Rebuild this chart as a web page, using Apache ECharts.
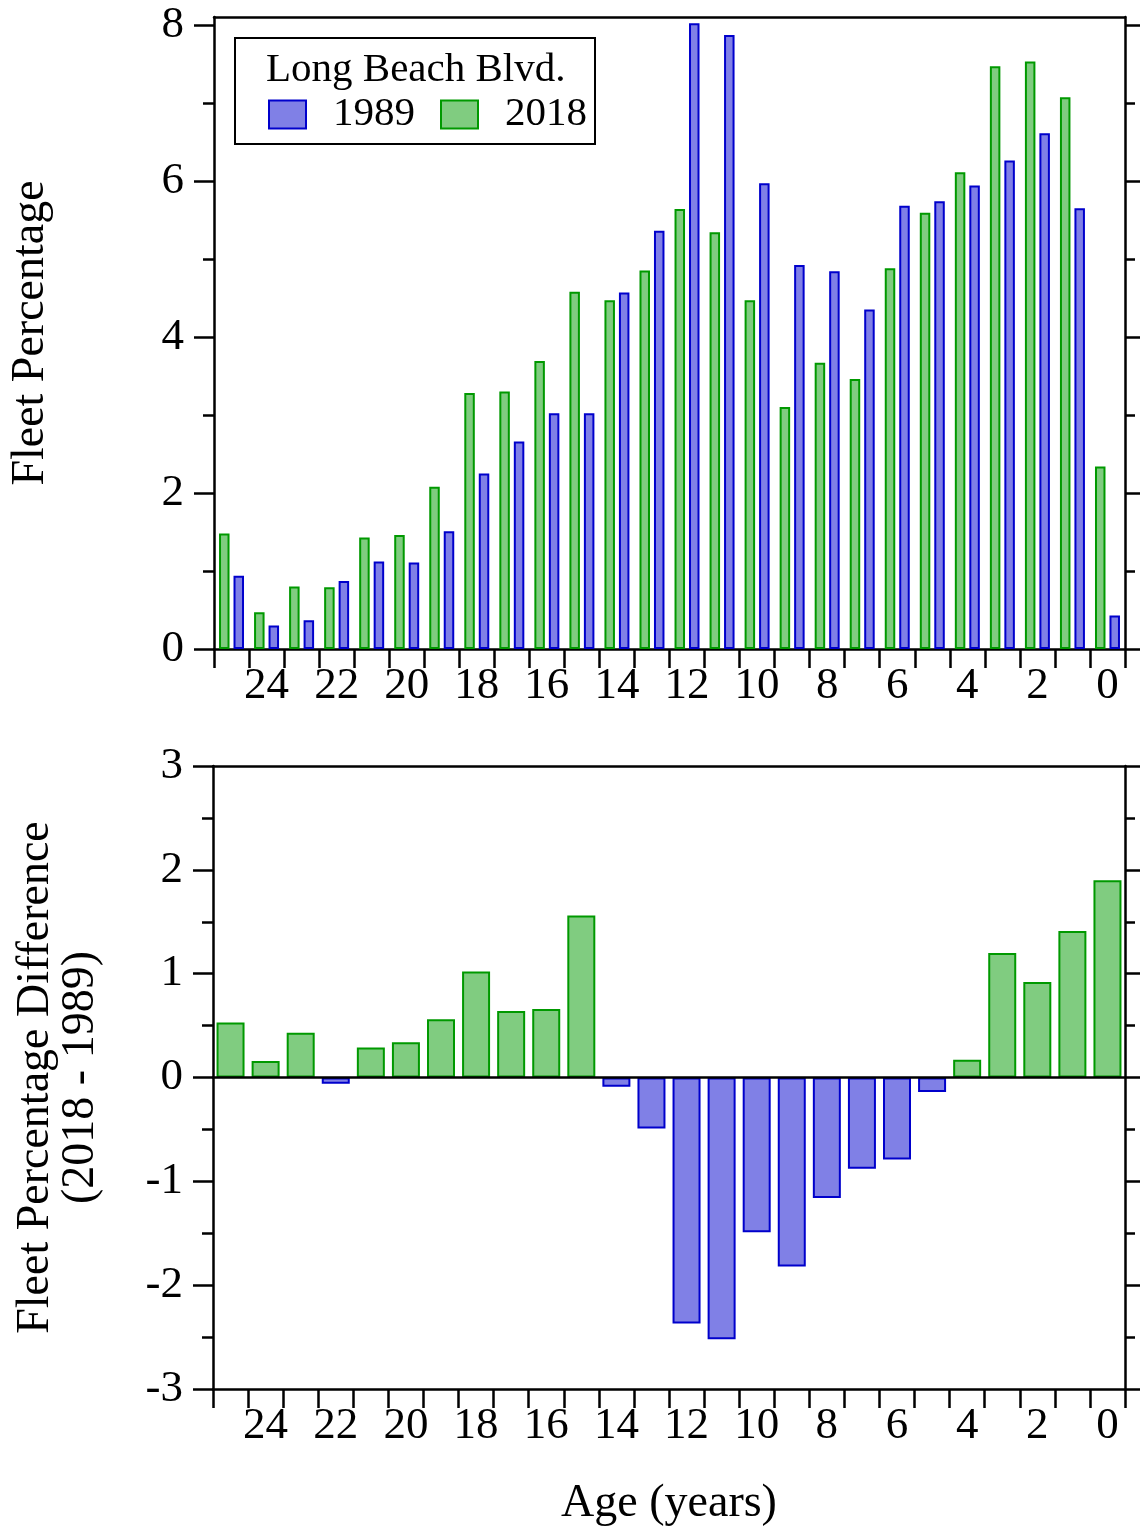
<!DOCTYPE html>
<html>
<head>
    <meta charset="utf-8">
    <title>Long Beach Blvd. fleet age</title>
    <script src="https://cdn.jsdelivr.net/npm/echarts@6/dist/echarts.min.js"></script>
    <style>
        html, body { margin: 0; padding: 0; background: #fff; }
    </style>
</head>
<body>
    <div id="main" style="width:1140px;height:1532px;"></div>
    <script type="text/javascript">
        // ages, oldest on the left
        var ages = [25, 24, 23, 22, 21, 20, 19, 18, 17, 16, 15, 14, 13, 12, 11, 10, 9, 8, 7, 6, 5, 4, 3, 2, 1, 0];
        // fleet percentage per age
        var fleet1989 = [0.94, 0.30, 0.37, 0.87, 1.12, 1.11, 1.51, 2.25, 2.66, 3.02, 3.02, 4.57, 5.36, 8.02, 7.87, 5.97, 4.92, 4.84, 4.35, 5.68, 5.74, 5.94, 6.26, 6.61, 5.65, 0.43];
        var fleet2018 = [1.48, 0.47, 0.80, 0.79, 1.43, 1.46, 2.08, 3.28, 3.30, 3.69, 4.58, 4.47, 4.85, 5.64, 5.34, 4.47, 3.10, 3.67, 3.46, 4.88, 5.59, 6.11, 7.47, 7.53, 7.07, 2.34];
        // difference 2018 - 1989
        var diff = [0.53, 0.16, 0.43, -0.06, 0.29, 0.34, 0.56, 1.02, 0.64, 0.66, 1.56, -0.09, -0.49, -2.37, -2.52, -1.49, -1.82, -1.16, -0.88, -0.79, -0.14, 0.17, 1.20, 0.92, 1.41, 1.90];
        var topMajor = [0, 2, 4, 6, 8];
        var topMinor = [1, 3, 5, 7];
        var botMajor = [-3, -2, -1, 0, 1, 2, 3];
        var botMinor = [-2.5, -1.5, -0.5, 0.5, 1.5, 2.5];

        var font = 'Liberation Serif';
        var lw = 2.5;
        var blue = { color: '#8080e6', borderColor: '#0000cc', borderWidth: 2 };
        var green = { color: '#80cc80', borderColor: '#009900', borderWidth: 2 };
        var axLine = { show: true, onZero: false, lineStyle: { color: '#000', width: lw } };

        function catAxis(grid, pos, withTicks, extra) {
            var a = {
                type: 'category', gridIndex: grid, position: pos, data: ages,
                axisLine: axLine,
                axisTick: { show: withTicks, interval: 0, alignWithLabel: false, inside: false, length: 19,
                    lineStyle: { color: '#000', width: lw } },
                axisLabel: { show: withTicks, interval: function (i, v) { return Number(v) % 2 === 0; },
                    margin: 15, fontSize: 45, fontFamily: font, color: '#000' },
                splitLine: { show: false }
            };
            return Object.assign(a, extra || {});
        }

        function valAxis(grid, pos, min, max, ticks, len, labels, extra) {
            var a = {
                type: 'value', gridIndex: grid, position: pos, min: min, max: max,
                axisLine: labels === null ? { show: false } : { show: true, lineStyle: { color: '#000', width: lw } },
                axisTick: { show: true, inside: false, length: len, customValues: ticks,
                    lineStyle: { color: '#000', width: lw } },
                axisLabel: labels ? { show: true, customValues: labels, margin: 30, fontSize: 45,
                    fontFamily: font, color: '#000' } : { show: false },
                splitLine: { show: false }
            };
            return Object.assign(a, extra || {});
        }

        var chart = echarts.init(document.getElementById('main'));
        var option = {
            backgroundColor: '#fff',
            animation: false,
            textStyle: { fontFamily: font },
            title: {
                text: 'Long Beach Blvd.', left: 261, top: 45,
                textStyle: { fontFamily: font, fontSize: 41, fontWeight: 'normal', color: '#000' }
            },
            legend: {
                data: ['1989', '2018'], left: 235, top: 38,
                padding: [56, 8, 9, 33], itemWidth: 37, itemHeight: 28, itemGap: 25,
                borderColor: '#000', borderWidth: 2, icon: 'rect',
                formatter: '{t|{name}}',
                textStyle: { fontFamily: font, fontSize: 41, color: '#000',
                    rich: { t: { fontFamily: font, fontSize: 41, lineHeight: 40, padding: [0, 0, 0, 22] } } }
            },
            grid: [
                { left: 213, right: 15, top: 17, height: 632 },
                { left: 213, right: 15, top: 766, height: 623 }
            ],
            xAxis: [
                catAxis(0, 'bottom', true),
                catAxis(0, 'top', false),
                catAxis(1, 'bottom', true, {
                    name: 'Age (years)', nameLocation: 'middle', nameGap: 92,
                    nameTextStyle: { fontFamily: font, fontSize: 46, color: '#000' }
                }),
                catAxis(1, 'top', false),
                catAxis(1, 'bottom', false, {
                    axisLine: { show: true, onZero: true, lineStyle: { color: '#000', width: lw } }, z: 10
                })
            ],
            yAxis: [
                valAxis(0, 'left', 0, 8.1, topMajor, 20, topMajor, {
                    name: 'Fleet Percentage', nameLocation: 'middle', nameRotate: 90, nameGap: 160,
                    nameTextStyle: { fontFamily: font, fontSize: 46, color: '#000' }
                }),
                valAxis(0, 'left', 0, 8.1, topMinor, 11, null),
                valAxis(0, 'right', 0, 8.1, topMajor, 15, false),
                valAxis(0, 'right', 0, 8.1, topMinor, 10, null),
                valAxis(1, 'left', -3, 3, botMajor, 20, botMajor, {
                    name: 'Fleet Percentage Difference\n(2018 - 1989)', nameLocation: 'middle',
                    nameRotate: 90, nameGap: 110,
                    nameTextStyle: { fontFamily: font, fontSize: 46, lineHeight: 45, color: '#000' }
                }),
                valAxis(1, 'left', -3, 3, botMinor, 11, null),
                valAxis(1, 'right', -3, 3, botMajor, 15, false),
                valAxis(1, 'right', -3, 3, botMinor, 10, null)
            ],
            series: [
                { name: '2018', type: 'bar', xAxisIndex: 0, yAxisIndex: 0, data: fleet2018,
                  barWidth: 10.5, barGap: '38%', itemStyle: green },
                { name: '1989', type: 'bar', xAxisIndex: 0, yAxisIndex: 0, data: fleet1989,
                  barWidth: 10.5, barGap: '38%', itemStyle: blue },
                { name: 'diff', type: 'bar', xAxisIndex: 2, yAxisIndex: 4, barWidth: 28,
                  data: diff.map(function (v) {
                      return { value: v, itemStyle: v >= 0 ? green : blue };
                  }) }
            ]
        };
        chart.setOption(option);
    </script>
</body>
</html>
